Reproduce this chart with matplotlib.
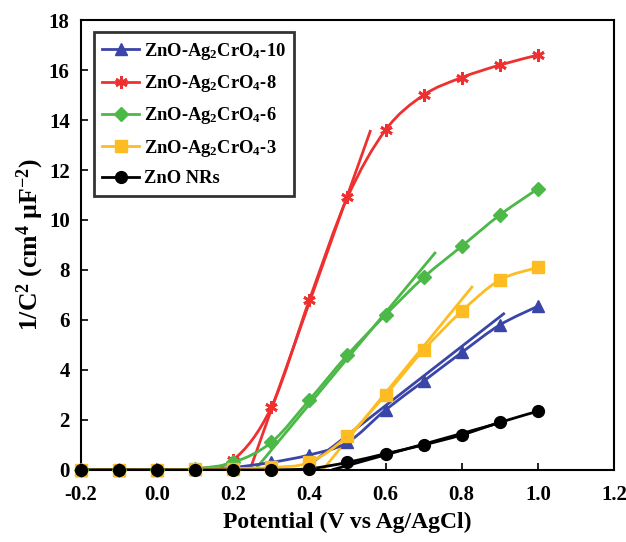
import matplotlib
matplotlib.use("Agg")
import matplotlib.pyplot as plt
from matplotlib.path import Path
from matplotlib.patches import PathPatch
from matplotlib.lines import Line2D
import numpy as np

plt.rcParams['font.family'] = ['Liberation Serif', 'DejaVu Serif']
plt.rcParams['font.weight'] = 'bold'
plt.rcParams['mathtext.fontset'] = 'custom'
plt.rcParams['mathtext.rm'] = 'Liberation Serif:bold'
plt.rcParams['mathtext.it'] = 'Liberation Serif:bold'
plt.rcParams['mathtext.bf'] = 'Liberation Serif:bold'
plt.rcParams['mathtext.default'] = 'rm'

potential = [-0.2, -0.1, 0.0, 0.1, 0.2, 0.3, 0.4, 0.5, 0.6, 0.7, 0.8, 0.9, 1.0]

s10 = [0, 0, 0, 0.02, 0.1, 0.3, 0.6, 1.1, 2.4, 3.55, 4.7, 5.8, 6.55]
s8 = [0, 0, 0, 0.05, 0.4, 2.5, 6.8, 10.9, 13.6, 15.0, 15.7, 16.2, 16.6]
s6 = [0, 0, 0, 0.05, 0.3, 1.1, 2.8, 4.6, 6.2, 7.7, 8.95, 10.2, 11.25]
s3 = [0, 0, 0, 0.02, 0.05, 0.1, 0.3, 1.35, 3.0, 4.8, 6.35, 7.6, 8.1]
nrs = [0, 0, 0, 0, 0, 0, 0.05, 0.3, 0.65, 1.0, 1.4, 1.9, 2.35]

# linear (Mott-Schottky) fit segments: ([x0, x1], [y0, y1])
fit10 = ([0.383, 0.913], [0.0, 6.28])
fit8 = ([0.244, 0.561], [0.0, 13.6])
fit6 = ([0.257, 0.732], [0.0, 8.72])
fit3 = ([0.435, 0.829], [0.0, 7.36])
fitnrs = ([0.459, 0.908], [0.0, 1.92])

labels = ['ZnO-Ag$_2$CrO$_4$-10', 'ZnO-Ag$_2$CrO$_4$-8', 'ZnO-Ag$_2$CrO$_4$-6',
          'ZnO-Ag$_2$CrO$_4$-3', 'ZnO NRs']
colors = ['#3a45a8', '#ee3030', '#4cb848', '#fdbd22', '#000000']
markers = ['^', (6, 2, 0), 'D', 's', 'o']
msizes = [8.5, 9, 7, 8.5, 8.5]
series = [s10, s8, s6, s3, nrs]
fits = [fit10, fit8, fit6, fit3, fitnrs]


def smooth_path(xs, ys):
    """Excel-like smoothed line as cubic Bezier path through the points."""
    pts = np.column_stack([xs, ys]).astype(float)
    n = len(pts)
    verts = [pts[0]]
    codes = [Path.MOVETO]
    for i in range(n - 1):
        p_prev = pts[i - 1] if i > 0 else pts[i]
        p_next2 = pts[i + 2] if i + 2 < n else pts[i + 1]
        c1 = pts[i] + (pts[i + 1] - p_prev) / 6.0
        c2 = pts[i + 1] - (p_next2 - pts[i]) / 6.0
        verts += [c1, c2, pts[i + 1]]
        codes += [Path.CURVE4] * 3
    return Path(verts, codes)


fig = plt.figure(figsize=(6.26, 5.42), dpi=100)
ax = fig.add_axes([0.129, 0.133, 0.852, 0.830])

handles = []
for ys, fit, c, m, ms, lab in zip(series, fits, colors, markers, msizes, labels):
    mew = 2 if m == (6, 2, 0) else 1
    ax.plot(fit[0], fit[1], color=c, lw=2, zorder=2, solid_capstyle='butt')
    ax.add_patch(PathPatch(smooth_path(potential, ys), fill=False, edgecolor=c,
                           lw=2, zorder=3))
    ax.plot(potential, ys, ls='none', marker=m, ms=ms, mew=mew, mec=c, mfc=c,
            zorder=4, clip_on=False)
    handles.append(Line2D([], [], color=c, lw=2, marker=m, ms=ms, mew=mew,
                          mec=c, mfc=c, label=lab))

ax.set_xlim(-0.2, 1.2)
ax.set_ylim(0, 18)
ax.set_xticks(np.arange(-0.2, 1.21, 0.2))
ax.set_xticklabels(['-0.2', '0.0', '0.2', '0.4', '0.6', '0.8', '1.0', '1.2'])
ax.set_yticks(range(0, 19, 2))
ax.tick_params(direction='in', length=5, width=1.2, labelsize=15)
ax.tick_params(axis='x', pad=11)
ax.tick_params(axis='y', pad=8)
for sp in ax.spines.values():
    sp.set_linewidth(1.5)

ax.set_xlabel('Potential (V vs Ag/AgCl)', fontsize=17, fontweight='bold', labelpad=5)
ax.set_ylabel('1/C$^2$ (cm$^4$ µF$^{-2}$)', fontsize=18.5, fontweight='bold', labelpad=2)

leg = ax.legend(handles=handles, loc='upper left', bbox_to_anchor=(0.025, 0.973),
                fontsize=13.3, frameon=True, fancybox=False, edgecolor='black',
                handlelength=2.0, borderpad=0.45, labelspacing=0.62,
                handletextpad=0.25, borderaxespad=0.0)
leg.get_frame().set_linewidth(2)

fig.savefig('out.png', dpi=100)
